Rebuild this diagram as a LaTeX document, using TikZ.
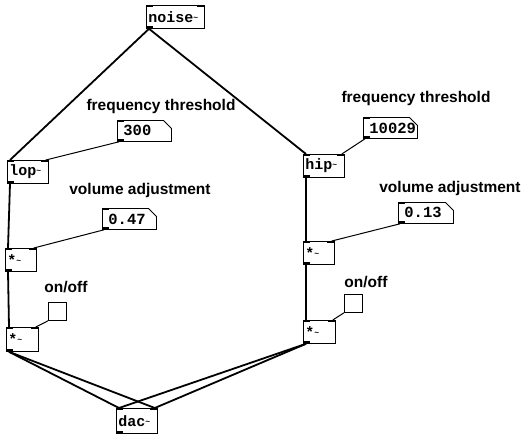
\documentclass[tikz,border=0pt]{standalone}
\usepackage{fontspec}
\newfontfamily\pdfont{Liberation Mono}
\newfontfamily\lblfont{Liberation Sans}
\usetikzlibrary{shapes.misc}
\newcommand{\tld}{\raisebox{0.25ex}{\fontsize{8}{8}\selectfont\textasciitilde}}
\begin{document}
\begin{tikzpicture}[x=1pt, y=-1pt,
    every node/.style={inner sep=0pt},
    iolets/.style={path picture={
        \fill (path picture bounding box.north west) rectangle ++(7pt,-2pt);
        \fill (path picture bounding box.north east) rectangle ++(-7pt,-2pt);
        \fill (path picture bounding box.south west) rectangle ++(7pt,2pt);}},
    pdobj/.style={draw, line width=0.8pt, rectangle, anchor=north west, iolets,
                  inner xsep=2pt, text width=#1, minimum height=23pt, align=left,
                  font=\pdfont\bfseries\fontsize{15}{15}\selectfont},
    numbox/.style={draw, line width=0.8pt, chamfered rectangle,
                   chamfered rectangle corners=north east,
                   chamfered rectangle xsep=4pt, chamfered rectangle ysep=4pt,
                   anchor=north west, iolets, inner xsep=2pt, text width=#1,
                   minimum height=21pt, align=left,
                   font=\pdfont\bfseries\fontsize{15.5}{15.5}\selectfont},
    toggle/.style={draw, line width=0.8pt, anchor=north west, minimum size=18pt},
    lbl/.style={font=\lblfont\bfseries\fontsize{15.5}{16}\selectfont},
    sig/.style={line width=1.8pt},
    ctl/.style={line width=1pt}]
  \useasboundingbox (0,0) rectangle (525,436);

  \node[pdobj=54pt] (noise) at (146,5) {noise\tld};
  \node[pdobj=37pt] (lop) at (7,160) {lop\tld};
  \node[pdobj=37pt] (hip) at (303,154) {hip\tld};
  \node[pdobj=27pt] (mulA) at (5,248) {*\tld};
  \node[pdobj=27pt] (mulB) at (303,241) {*\tld};
  \node[pdobj=28pt, minimum height=24pt] (mulC) at (6,327) {*\tld};
  \node[pdobj=28pt] (mulD) at (303,320) {*\tld};
  \node[pdobj=37pt, minimum height=25pt] (dac) at (116,408) {dac\tld};

  \node[numbox=42pt] (thrA) at (117,120) {300};
  \node[numbox=42pt] (thrB) at (363,117) {10029};
  \node[numbox=42pt] (volA) at (102,208) {0.47};
  \node[numbox=43pt] (volB) at (398,202) {0.13};
  \node[toggle] (togA) at (48,302) {};
  \node[toggle] (togB) at (344,294) {};

  \node[lbl] (thrAlbl) at (161,106) {frequency threshold};
  \node[lbl] (thrBlbl) at (416,98) {frequency threshold};
  \node[lbl] (volAlbl) at (140,190) {volume adjustment};
  \node[lbl] (volBlbl) at (450,188) {volume adjustment};
  \node[lbl] (togAlbl) at (66,287) {on/off};
  \node[lbl] (togBlbl) at (366,282) {on/off};

  \draw[sig] ([xshift=3pt]noise.south west) -- ([xshift=3pt]lop.north west);
  \draw[sig] ([xshift=3pt]noise.south west) -- ([xshift=3pt]hip.north west);
  \draw[ctl] ([xshift=2pt]thrA.south west) -- ([xshift=-3pt]lop.north east);
  \draw[ctl] ([xshift=2pt]thrB.south west) -- ([xshift=-3pt]hip.north east);
  \draw[sig] ([xshift=3pt]lop.south west) -- ([xshift=3pt]mulA.north west);
  \draw[sig] ([xshift=3pt]hip.south west) -- ([xshift=3pt]mulB.north west);
  \draw[ctl] ([xshift=2pt]volA.south west) -- ([xshift=-3pt]mulA.north east);
  \draw[ctl] ([xshift=2pt]volB.south west) -- ([xshift=-3pt]mulB.north east);
  \draw[sig] ([xshift=3pt]mulA.south west) -- ([xshift=3pt]mulC.north west);
  \draw[sig] ([xshift=3pt]mulB.south west) -- ([xshift=3pt]mulD.north west);
  \draw[ctl] (togA.south west) -- ([xshift=-3pt]mulC.north east);
  \draw[ctl] (togB.south west) -- ([xshift=-3pt]mulD.north east);
  \draw[sig] ([xshift=3pt]mulC.south west) -- ([xshift=3pt]dac.north west);
  \draw[sig] ([xshift=3pt]mulC.south west) -- ([xshift=-3pt]dac.north east);
  \draw[sig] ([xshift=3pt]mulD.south west) -- ([xshift=3pt]dac.north west);
  \draw[sig] ([xshift=3pt]mulD.south west) -- ([xshift=-3pt]dac.north east);
\end{tikzpicture}
\end{document}
